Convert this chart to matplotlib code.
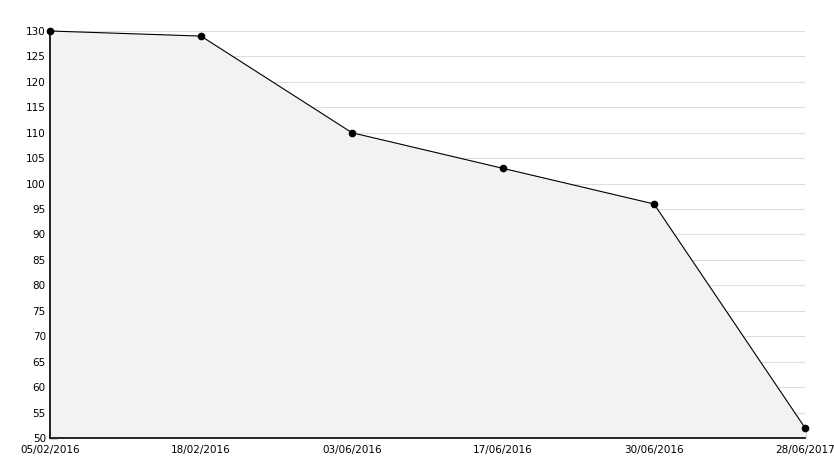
import matplotlib
matplotlib.use("Agg")
import matplotlib.pyplot as plt
from matplotlib.ticker import MultipleLocator

dates = ["05/02/2016", "18/02/2016", "03/06/2016", "17/06/2016", "30/06/2016", "28/06/2017"]
values = [130, 129, 110, 103, 96, 52]

fig = plt.figure(figsize=(8.34, 4.68), dpi=100)
ax = fig.add_axes([50 / 834, 30 / 468, 755 / 834, 407 / 468])

x = list(range(len(dates)))
ax.fill_between(x, values, 50, color="#f2f2f2", zorder=1)
ax.plot(x, values, color="black", lw=0.8, marker="o", ms=4.5, zorder=3, clip_on=False)

ax.set_xlim(0, len(dates) - 1)
ax.set_ylim(50, 130)
ax.set_xticks(x)
ax.set_xticklabels(dates)
ax.yaxis.set_major_locator(MultipleLocator(5))
ax.yaxis.set_minor_locator(MultipleLocator(1))
ax.grid(axis="y", color="#dddddd", lw=0.8, zorder=0)
ax.set_axisbelow(True)

for s in ["top", "right"]:
    ax.spines[s].set_visible(False)
ax.spines["left"].set_linewidth(1.2)
ax.spines["bottom"].set_linewidth(1.2)

ax.tick_params(axis="y", which="major", direction="in", length=5, width=1, labelsize=7.5, pad=3)
ax.tick_params(axis="y", which="minor", direction="in", length=3, width=0.8)
ax.tick_params(axis="x", direction="in", length=5, width=1, labelsize=7.5, pad=5)

fig.savefig("out.png", dpi=100)
